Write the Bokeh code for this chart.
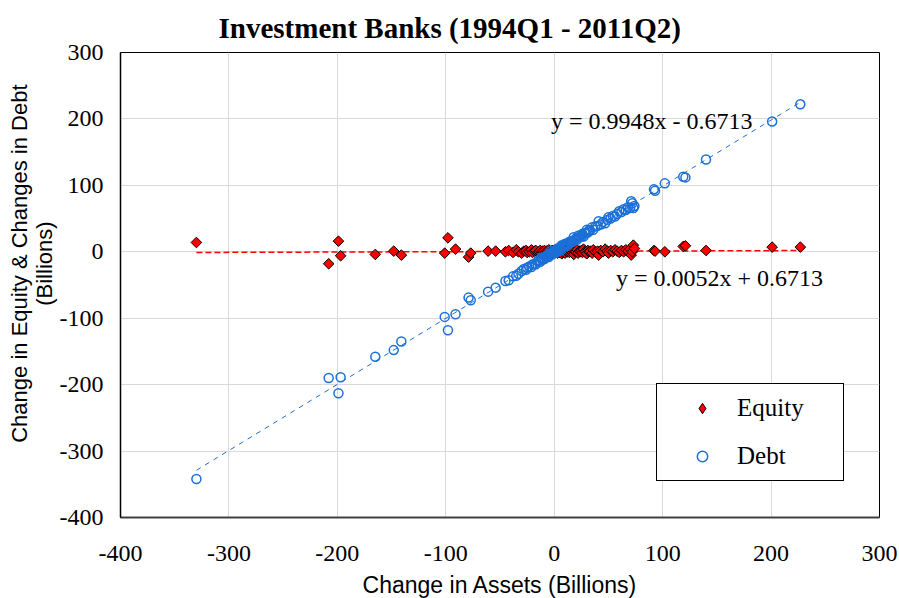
import numpy as np
from bokeh.plotting import figure
from bokeh.models import Range1d, Label, Legend, LegendItem, FixedTicker, ColumnDataSource, Title
from bokeh.embed import file_html
from bokeh.resources import INLINE

# ---- data (billions) ----
assets = [-330, -208, -199, -197, -165, -148, -141, -101, -98, -91, -79, -77, -61, -54,
          -45, -42, -38, -35, -33, -30, -28, -26, -25, -23, -21, -20, -18, -17, -15, -14,
          -13, -12, -11, -10, -9, -8, -7, -6, -5, -5, -4, -3, -3, -2, -2, -1, -1, 0, 0,
          1, 1, 2, 2, 3, 3, 4, 4, 5, 5, 6, 6, 7, 8, 8, 9, 10, 10, 11, 12, 13, 14, 15,
          16, 17, 18, 19, 20, 21, 22, 23, 24, 25, 26, 27, 28, 29, 30, 31, 32, 33, 35,
          36, 38, 40, 41, 43, 45, 47, 49, 50, 52, 54, 56, 58, 60, 62, 64, 66, 68, 70,
          71, 72, 73, 74, 92, 93, 102, 119, 121, 140, 201, 227]
equity = [14, -18, 16, -6, -4, 1, -5, -2, 21, 4, -8, -2, 1, 1,
          0, 2, -1, 3, 0, -2, 1, 2, -1, 0, 3, -1, 1, 2, -1, 0,
          2, -3, 1, 0, 2, -1, 1, 0, 3, -2, 1, 0, -4, 2, 0, 1, -1, 0, 2,
          -1, 1, 0, 3, -2, 1, 0, 2, -1, 1, 0, 4, -3, 1, -1, 0, 2, -2, 1, 0, 3, -1, 1,
          0, 2, -4, 1, 0, 3, -2, 1, 0, 2, -1, 4, 0, 1, -3, 2, 0, 1, -2,
          3, 0, 1, -5, 2, 0, 4, 1, -2, 2, 0, 3, 1, -1, 2, 0, 3, 1, 4,
          -5, 0, 10, 5, 2, 1, 0, 8, 9, 2, 7, 7]
debt = [-342, -190, -213, -189, -158, -148, -135, -98, -118, -94, -69, -73, -60, -54,
        -44, -43, -37, -36, -33, -29, -26, -27, -24, -22, -23, -19, -18, -19, -14, -13,
        -15, -9, -12, -10, -11, -7, -8, -6, -8, -3, -5, -3, 1, -4, -2, -2, 0, 0, -2,
        2, 0, 2, -1, 5, 2, 4, 2, 6, 4, 6, 2, 10, 7, 9, 9, 8, 12, 10, 12, 10, 15, 14,
        16, 15, 22, 18, 20, 18, 24, 22, 24, 23, 27, 23, 28, 28, 33, 29, 32, 32, 37,
        33, 38, 39, 46, 41, 45, 43, 48, 52, 50, 54, 53, 57, 61, 60, 64, 63, 67, 66,
        76, 73, 66, 69, 94, 92, 103, 113, 112, 139, 196, 222]

# regression results shown on the chart
debt_slope, debt_icpt = 0.9948, -0.6713
eq_slope, eq_icpt = 0.0052, 0.6713
x_ticks = [-400, -300, -200, -100, 0, 100, 200, 300]
y_ticks = [-400, -300, -200, -100, 0, 100, 200, 300]

RED = "#FF0000"
BLUE = "#1a6fd8"
SERIF = "Liberation Serif"
SANS = "Liberation Sans"

p = figure(frame_width=759, frame_height=465, output_backend="svg", toolbar_location=None,
           x_range=Range1d(-400, 300), y_range=Range1d(-400, 300),
           min_border_left=120, min_border_right=20, min_border_top=52, min_border_bottom=81)
p.outline_line_color = "black"
p.outline_line_width = 1
p.background_fill_color = "white"
p.border_fill_color = "white"

p.title = Title(text="Investment Banks (1994Q1 - 2011Q2)", align="left", offset=98,
                text_font=SERIF, text_font_size="29px", text_font_style="bold",
                text_color="black", standoff=18)

for ax in (p.xaxis[0], p.yaxis[0]):
    ax.major_tick_line_color = None
    ax.minor_tick_line_color = None
    ax.major_label_text_font = SERIF
    ax.major_label_text_font_size = "24px"
    ax.major_label_text_color = "black"
    ax.axis_label_text_font = SANS
    ax.axis_label_text_font_style = "normal"
    ax.axis_label_text_color = "black"
p.xaxis.ticker = FixedTicker(ticks=x_ticks)
p.yaxis.ticker = FixedTicker(ticks=y_ticks)
p.xaxis.major_label_overrides = {t: str(t) for t in x_ticks}
p.yaxis.major_label_overrides = {t: str(t) for t in y_ticks}
p.xaxis.major_label_standoff = 22
p.yaxis.major_label_standoff = 11
p.xaxis.axis_line_color = "#404040"
p.xaxis.axis_line_width = 2
p.yaxis.axis_line_color = "black"
p.yaxis.axis_line_width = 1.5

p.xaxis.axis_label = "Change in Assets (Billions)"
p.xaxis.axis_label_text_font_size = "23px"
p.xaxis.axis_label_standoff = 8
pad = "\u00a0" * 7
p.yaxis.axis_label = pad + "Change in Equity & Changes in Debt\n" + pad + "(Billions)"
p.yaxis.axis_label_text_font_size = "22px"
p.yaxis.axis_label_text_line_height = 1.0
p.yaxis.axis_label_standoff = 0

p.xgrid.grid_line_color = "#d9d9d9"
p.ygrid.grid_line_color = "#d9d9d9"
p.xgrid.grid_line_width = 1
p.ygrid.grid_line_width = 1

src = ColumnDataSource(dict(x=assets, eq=equity, debt=debt))

# trend lines
xmin, xmax = min(assets), max(assets)
tx = np.array([xmin, xmax], dtype=float)
p.line(tx, eq_slope * tx + eq_icpt, line_color=RED, line_width=1.5, line_dash="6 3")
p.line(tx, debt_slope * tx + debt_icpt, line_color=BLUE, line_width=1, line_dash="5 5")

r_eq = p.scatter("x", "eq", source=src, marker="square", angle=np.pi / 4, size=7.5,
                 fill_color=RED, line_color="black", line_width=1)
r_debt = p.scatter("x", "debt", source=src, marker="circle", size=9,
                   fill_color=None, line_color=BLUE, line_width=1.5)
# legend-only glyph (legend ignores marker angle); hidden in the plot itself
r_eq_leg = p.scatter("x", "eq", source=src, marker="diamond", size=12,
                     fill_color=RED, line_color="black", line_width=1, visible=False)

legend = Legend(items=[LegendItem(label="Equity", renderers=[r_eq_leg]),
                       LegendItem(label="Debt", renderers=[r_debt])],
                location=(536, 36), orientation="vertical",
                border_line_color="black", border_line_width=1, border_line_alpha=1,
                background_fill_color="white", background_fill_alpha=1,
                inactive_fill_alpha=0,
                label_text_font=SERIF, label_text_font_size="25px", label_text_color="black",
                glyph_width=70, glyph_height=26, label_standoff=-13, label_width=96,
                padding=10, spacing=20, margin=0)
p.add_layout(legend)

# equation labels
p.add_layout(Label(x=-3, y=197, text="y = 0.9948x - 0.6713", text_font=SERIF,
                   text_font_size="24px", text_baseline="middle", text_color="black"))
p.add_layout(Label(x=57, y=-40, text="y = 0.0052x + 0.6713", text_font=SERIF,
                   text_font_size="24px", text_baseline="middle", text_color="black"))

open("out.html", "w").write(file_html(p, INLINE))
